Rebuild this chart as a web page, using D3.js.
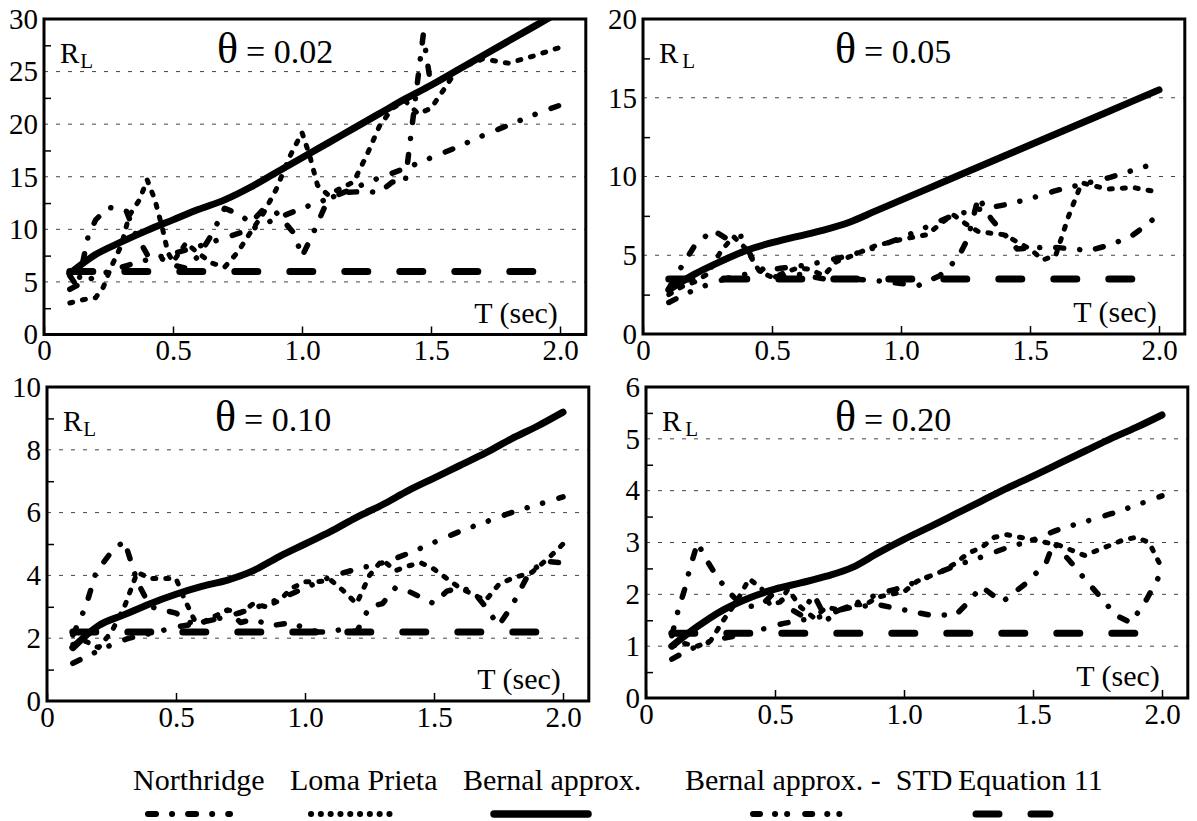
<!DOCTYPE html>
<html><head><meta charset="utf-8">
<script src="https://cdn.jsdelivr.net/npm/d3@7"></script>
<style>
body{margin:0;background:#fff}
svg{display:block}
</style>
</head><body>
<svg id="c" width="1197" height="821"></svg>
<script>
// ---------------- DATA ----------------
const T20 = [0.1,0.2,0.3,0.4,0.5,0.6,0.7,0.8,0.9,1.0,1.1,1.2,1.3,1.4,1.5,1.6,1.7,1.8,1.9,2.0];
const xTickValues = [0,0.5,1.0,1.5,2.0];
const xTickLabels = ["0","0.5","1.0","1.5","2.0"];
const thetaLabels = ["0.02","0.05","0.10","0.20"];
const yMaxes = [30,20,10,6];
const ySteps = [5,5,2,1];
const seriesNames = ["Northridge","Loma Prieta","Bernal approx.","Bernal approx. -  STD","Equation 11"];

// Bernal approx. (solid) on T20
const bernal_002 = [5.8,7.6,8.8,9.9,10.9,11.9,12.8,14.0,15.4,16.8,18.2,19.6,21.0,22.4,23.7,25.1,26.5,27.9,29.3,30.7];
const bernal_005 = [2.8,3.8,4.6,5.3,5.8,6.2,6.6,7.1,7.8,8.5,9.2,9.9,10.6,11.3,12.0,12.7,13.4,14.1,14.8,15.5];
const bernal_010 = [1.7,2.4,2.75,3.1,3.4,3.65,3.85,4.15,4.6,5.0,5.4,5.85,6.25,6.7,7.1,7.5,7.9,8.35,8.75,9.2];
const bernal_020 = [1.0,1.38,1.7,1.93,2.1,2.22,2.35,2.52,2.8,3.06,3.3,3.55,3.8,4.05,4.28,4.52,4.76,5.0,5.22,5.46];

// Bernal approx. - STD on T20
const bstd_002 = [4.3,5.5,6.4,7.1,7.7,8.4,9.2,10.0,11.0,12.0,12.9,13.9,14.9,15.8,16.8,17.8,18.9,19.9,20.9,21.8];
const bstd_005 = [2.0,2.8,3.4,3.8,4.1,4.3,4.6,5.0,5.5,6.1,6.8,7.5,7.9,8.2,8.6,9.1,9.5,9.9,10.4,10.9];
const bstd_010 = [1.2,1.6,1.95,2.15,2.35,2.5,2.7,2.95,3.25,3.6,3.95,4.2,4.4,4.7,5.05,5.4,5.7,6.0,6.25,6.5];
const bstd_020 = [0.75,1.0,1.15,1.25,1.4,1.5,1.6,1.8,2.0,2.15,2.35,2.55,2.72,2.9,3.05,3.25,3.4,3.55,3.72,3.9];

// Equation 11 (constant), from T = 0.1 to 2.0
const eq11T = [0.1, 2.0];
const eq11Values = [6.0, 3.5, 2.2, 1.25];

// Northridge [T, R_L]
const north_002 = [[0.1,5.6],[0.13,4.5],[0.17,9.2],[0.2,10.9],[0.25,12.1],[0.32,11.7],[0.35,9.8],[0.4,7.6],[0.45,7.3],[0.5,6.6],[0.55,6.3],[0.6,7.5],[0.65,9.5],[0.7,12.0],[0.76,11.4],[0.8,10.6],[0.85,11.9],[0.9,11.6],[0.97,9.6],[1.0,7.4],[1.05,10.0],[1.1,12.8],[1.15,13.5],[1.25,13.6],[1.3,13.5],[1.35,14.5],[1.4,14.5],[1.47,28.5],[1.5,23.6]];
const north_005 = [[0.1,2.9],[0.15,4.3],[0.2,5.6],[0.27,6.6],[0.32,6.1],[0.38,6.2],[0.43,4.6],[0.5,3.6],[0.6,3.8],[0.7,3.5],[0.8,3.5],[0.9,3.4],[1.0,3.2],[1.07,3.1],[1.15,3.7],[1.22,4.8],[1.26,6.1],[1.3,8.7],[1.35,7.3],[1.45,5.4],[1.55,5.5],[1.6,5.5],[1.73,5.3],[1.82,5.7],[1.9,6.3],[1.95,6.9],[2.0,7.6]];
const north_010 = [[0.1,2.1],[0.15,3.0],[0.19,4.1],[0.25,4.75],[0.3,5.1],[0.35,3.8],[0.4,3.0],[0.45,2.9],[0.5,2.8],[0.55,2.5],[0.6,2.5],[0.65,2.6],[0.7,2.9],[0.75,2.5],[0.8,2.6],[0.87,2.4],[0.95,2.5],[1.0,2.3],[1.05,2.2],[1.1,2.2],[1.15,2.3],[1.2,2.2],[1.25,3.0],[1.3,3.1],[1.35,3.6],[1.4,3.5],[1.45,3.3],[1.5,3.1],[1.55,3.5],[1.6,3.6],[1.65,3.5],[1.7,3.0],[1.75,2.4],[1.8,3.0],[1.87,4.1],[1.93,4.45],[2.0,4.4]];
const north_020 = [[0.1,1.2],[0.125,1.7],[0.15,2.1],[0.17,2.5],[0.2,3.0],[0.23,2.7],[0.28,2.3],[0.33,2.0],[0.38,1.75],[0.45,1.8],[0.5,2.05],[0.55,1.75],[0.6,1.6],[0.65,2.0],[0.7,1.5],[0.75,1.7],[0.8,1.75],[0.9,1.8],[1.0,1.7],[1.1,1.6],[1.2,1.6],[1.25,1.85],[1.3,2.15],[1.38,1.85],[1.47,2.2],[1.55,2.6],[1.58,3.0],[1.65,2.6],[1.7,2.3],[1.77,1.9],[1.82,1.6],[1.88,1.45],[1.94,1.9],[2.0,2.45]];

// Loma Prieta [T, R_L]
const loma_002 = [[0.1,3.0],[0.15,3.3],[0.2,3.5],[0.23,4.5],[0.26,6.4],[0.3,8.5],[0.33,11.3],[0.37,12.8],[0.4,14.7],[0.43,12.8],[0.46,10.0],[0.48,7.8],[0.5,6.9],[0.55,8.7],[0.6,7.7],[0.65,6.8],[0.7,6.4],[0.75,7.8],[0.8,9.7],[0.85,11.5],[0.9,13.8],[0.95,16.8],[1.0,19.2],[1.03,17.0],[1.06,14.2],[1.1,13.3],[1.2,14.5],[1.25,17.0],[1.3,19.8],[1.35,21.5],[1.4,22.2],[1.45,21.0],[1.5,21.5],[1.55,23.3],[1.6,25.2],[1.7,26.2],[1.8,25.8],[1.9,26.5],[2.0,27.3]];
const loma_005 = [[0.1,2.5],[0.15,3.0],[0.2,3.3],[0.25,3.8],[0.3,5.2],[0.35,6.2],[0.4,5.4],[0.45,4.0],[0.5,3.6],[0.55,3.9],[0.6,4.2],[0.65,4.1],[0.7,3.7],[0.75,4.6],[0.8,4.9],[0.9,5.6],[1.0,6.0],[1.1,6.3],[1.2,7.6],[1.25,7.0],[1.3,6.5],[1.35,6.4],[1.4,6.3],[1.5,5.4],[1.55,4.7],[1.6,5.0],[1.65,7.5],[1.7,9.6],[1.8,9.2],[1.9,9.3],[2.0,9.0]];
const loma_010 = [[0.1,1.8],[0.15,1.9],[0.2,1.7],[0.25,2.2],[0.3,3.0],[0.35,4.1],[0.4,3.9],[0.45,3.9],[0.5,3.9],[0.53,3.3],[0.57,2.6],[0.6,2.5],[0.65,2.7],[0.7,2.9],[0.75,2.8],[0.8,3.1],[0.85,3.0],[0.9,3.2],[0.95,3.6],[1.0,3.8],[1.05,3.8],[1.1,3.85],[1.15,3.5],[1.2,3.1],[1.25,4.0],[1.3,4.5],[1.35,4.15],[1.4,4.3],[1.45,4.4],[1.5,4.2],[1.55,3.9],[1.6,3.6],[1.65,3.4],[1.7,3.2],[1.75,3.7],[1.8,3.9],[1.88,4.1],[1.95,4.6],[2.0,5.0]];
const loma_020 = [[0.1,1.0],[0.15,1.05],[0.2,1.0],[0.25,1.1],[0.3,1.5],[0.35,1.85],[0.4,2.3],[0.45,2.1],[0.48,1.8],[0.52,1.85],[0.55,2.1],[0.6,1.75],[0.65,1.55],[0.7,1.75],[0.75,1.7],[0.8,1.8],[0.85,1.8],[0.9,1.95],[0.95,2.0],[1.0,2.05],[1.05,2.25],[1.1,2.35],[1.15,2.45],[1.2,2.6],[1.25,2.8],[1.3,2.9],[1.35,3.1],[1.4,3.15],[1.45,3.1],[1.5,3.05],[1.55,3.0],[1.6,2.95],[1.65,2.85],[1.7,2.75],[1.75,2.85],[1.8,2.95],[1.85,3.05],[1.9,3.1],[1.95,3.0],[2.0,2.5]];

const northAll = [north_002, north_005, north_010, north_020];
const lomaAll = [loma_002, loma_005, loma_010, loma_020];
const bernalAll = [bernal_002, bernal_005, bernal_010, bernal_020];
const bstdAll = [bstd_002, bstd_005, bstd_010, bstd_020];

// ---------------- LAYOUT / STYLE ----------------
const layout = [
  {x:44,  y:19,  h:315.5, th:173},
  {x:643, y:19,  h:315,   th:192},
  {x:47,  y:387, h:314,   th:168},
  {x:646, y:387, h:311,   th:189}
];
const PW = 541.8;
const styles = [
  {w:5.5, dash:"8,16,0.1,16"},              // Northridge
  {w:5,   dash:"3,10"},                      // Loma Prieta
  {w:7,   dash:null},                        // Bernal
  {w:5.5, dash:"8,16,0.1,16,0.1,17"},        // Bernal - STD
  {w:7,   dash:"23,32"}                      // Eq 11
];
const legendStyles = [
  {w:6, dash:"8,16,0.1,16", x0:148, x1:230},
  {w:6, dash:"0.1,9.7",     x0:311, x1:399},
  {w:7.5, dash:null,        x0:494, x1:588},
  {w:6, dash:"7,15,0.1,12,0.1,18", x0:753, x1:840},
  {w:7, dash:"23,32",       x0:976, x1:1050}
];
const legendTextX = [133, 290, 463, 685, 958];

const svg = d3.select("#c");
const FONT = '"Liberation Serif", "Times New Roman", Times, "Nimbus Roman", "DejaVu Serif", serif';
svg.style("font-family", FONT);

layout.forEach((L, i) => {
  const x = d3.scaleLinear().domain([0, 2.1]).range([L.x, L.x + PW]);
  const y = d3.scaleLinear().domain([0, yMaxes[i]]).range([L.y + L.h, L.y]);
  const step = ySteps[i], ymax = yMaxes[i];
  const nMaj = Math.round(ymax / step);
  const majors = d3.range(0, nMaj + 1).map(k => k * step);
  const minors = d3.range(0, nMaj).map(k => k * step + step / 2);
  const g = svg.append("g");

  const cid = "clip" + i;
  svg.append("clipPath").attr("id", cid).append("rect")
    .attr("x", L.x).attr("y", L.y).attr("width", PW).attr("height", L.h);

  // gridlines
  g.append("g").selectAll("line").data(majors.slice(1, -1)).join("line")
    .attr("x1", L.x).attr("x2", L.x + PW)
    .attr("y1", d => y(d)).attr("y2", d => y(d))
    .attr("stroke", "#444").attr("stroke-width", 1).attr("stroke-dasharray", "4,8");

  // y axis labels
  const ya = g.append("g").attr("transform", `translate(${L.x},0)`)
    .call(d3.axisLeft(y).tickValues(majors).tickSize(0).tickPadding(6).tickFormat(d3.format("d")));
  ya.attr("font-family", null).attr("font-size", null);
  ya.select(".domain").remove();
  ya.selectAll("text").style("font-family", FONT).attr("font-size", 29).attr("fill", "#000");
  // minor y ticks (inside)
  const ym = g.append("g").attr("transform", `translate(${L.x},0)`)
    .call(d3.axisLeft(y).tickValues(minors).tickSize(-7).tickFormat(""));
  ym.select(".domain").remove();
  ym.selectAll("line").attr("stroke", "#000").attr("stroke-width", 1.5);

  // x axis
  const xa = g.append("g").attr("transform", `translate(0,${L.y + L.h})`)
    .call(d3.axisBottom(x).tickValues(xTickValues).tickSize(-8).tickPadding(5)
      .tickFormat((d, k) => xTickLabels[k]));
  xa.attr("font-family", null).attr("font-size", null);
  xa.select(".domain").remove();
  xa.selectAll("line").attr("stroke", "#000").attr("stroke-width", 1.5);
  xa.selectAll("text").style("font-family", FONT).attr("font-size", 29).attr("fill", "#000");

  // series
  const lineArr = d3.line().x(d => x(d[0])).y(d => y(d[1]));
  const lineSmooth = d3.line().x(d => x(d[0])).y(d => y(d[1])).curve(d3.curveMonotoneX);
  const seriesData = [
    {idx:4, d: eq11T.map(t => [t, eq11Values[i]]), gen: lineArr},
    {idx:3, d: T20.map((t, k) => [t, bstdAll[i][k]]), gen: lineSmooth},
    {idx:0, d: northAll[i], gen: lineArr},
    {idx:1, d: lomaAll[i], gen: lineArr},
    {idx:2, d: T20.map((t, k) => [t, bernalAll[i][k]]), gen: lineSmooth}
  ];
  const sg = g.append("g").attr("clip-path", `url(#${cid})`);
  seriesData.forEach(s => {
    const st = styles[s.idx];
    sg.append("path").attr("d", s.gen(s.d))
      .attr("fill", "none").attr("stroke", "#000")
      .attr("stroke-width", st.w)
      .attr("stroke-linecap", "round").attr("stroke-linejoin", "round")
      .attr("stroke-dasharray", st.dash);
  });

  // frame
  g.append("rect").attr("x", L.x).attr("y", L.y).attr("width", PW).attr("height", L.h)
    .attr("fill", "none").attr("stroke", "#000").attr("stroke-width", 3);

  // R_L label
  const rl = g.append("text").style("font-family", FONT).attr("x", L.x + 16).attr("y", L.y + 44).attr("font-size", 29);
  rl.append("tspan").text("R");
  rl.append("tspan").attr("font-size", 21).attr("dx", i === 0 || i === 2 ? 1 : 4).attr("dy", 5).text("L");

  // theta label
  g.append("text").style("font-family", FONT).attr("x", L.x + L.th).attr("y", L.y + 44).attr("font-size", 44).text("θ");
  g.append("text").style("font-family", FONT).attr("x", L.x + L.th + 29).attr("y", L.y + 44).attr("font-size", 34)
    .text("= " + thetaLabels[i]);

  // T (sec)
  g.append("text").style("font-family", FONT).attr("x", L.x + PW - 28).attr("y", L.y + L.h - 12)
    .attr("text-anchor", "end").attr("font-size", 30).text("T (sec)");
});

// legend
const lg = svg.append("g");
seriesNames.forEach((name, k) => {
  lg.append("text").style("font-family", FONT).attr("x", legendTextX[k]).attr("y", 790).attr("font-size", 30)
    .style("white-space", "pre").text(name);
  const ls = legendStyles[k];
  lg.append("line").attr("x1", ls.x0).attr("x2", ls.x1).attr("y1", 814).attr("y2", 814)
    .attr("stroke", "#000").attr("stroke-width", ls.w).attr("stroke-linecap", "round")
    .attr("stroke-dasharray", ls.dash);
});
</script>
</body></html>
